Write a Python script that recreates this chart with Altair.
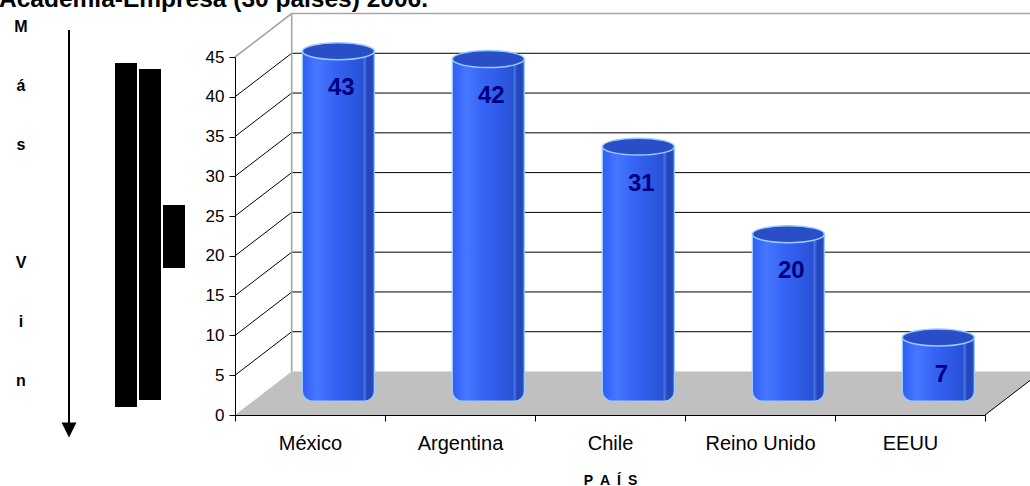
import altair as alt
import pandas as pd

# ---------------- data ----------------
countries = ["México", "Argentina", "Chile", "Reino Unido", "EEUU"]
values = [43, 42, 31, 20, 7]
y_ticks = [0, 5, 10, 15, 20, 25, 30, 35, 40, 45]
wall_lines = [5, 10, 15, 20, 25, 30, 35, 40, 45]
title_text = "Academia-Empresa (30 países) 2006."
side_letters = ["M", "á", "s", " ", "V", "i", "n"]
x_title = "P\u2002A\u2002Í\u2002S"

# ---------------- layout / style ----------------
W, H = 750, 358
PAD_L, PAD_T = 235, 57
PAD_R = 1030 - PAD_L - W
PAD_B = 486 - PAD_T - H
Y_MAX = 45
N = len(countries)
DX, DY = 56.7, -43.5            # oblique depth projection (px)
PX_PER_UNIT = H / Y_MAX
PX_PER_CAT = W / N
DX_U = DX / PX_PER_CAT
DY_U = -DY / PX_PER_UNIT
CYL_W = 0.48
CYL_PX = CYL_W * PX_PER_CAT
FONT = "Liberation Sans"
GRAY_EDGE = "#A6A6A6"
FLOOR = "#C0C0C0"
OUTLINE = "#99CCFF"
LABEL_DY = 37

# decorative elements on the left (absolute px)
BARS = [(115, 63, 137, 407), (139, 69, 161, 400), (163, 205, 185, 268)]
ARROW_X, ARROW_TOP, ARROW_BOT, ARROW_HEAD = 69, 30, 424, 430
LETTER_X, LETTER_Y0, LETTER_STEP = 21, 27, 59
TITLE_RIGHT, TITLE_BASE = 428, 7

yscale = alt.Scale(domain=[0, Y_MAX], nice=False, zero=True)
xq = alt.Scale(domain=[0, N], nice=False, zero=False)
xband = alt.Scale(type="band", domain=countries, paddingInner=0, paddingOuter=0)

df = pd.DataFrame({"country": countries, "value": values})
wall_df = pd.DataFrame({"v": wall_lines})
one = pd.DataFrame({"k": [0]})

line_color = alt.condition(alt.datum.v == Y_MAX, alt.value(GRAY_EDGE), alt.value("black"))
line_width = alt.condition(alt.datum.v == Y_MAX, alt.value(1.6), alt.value(1))

# floor parallelogram
floor = alt.Chart(pd.DataFrame({"depth": [0.0, 1.0]})).transform_calculate(
    fy=f"datum.depth * {DY_U}",
    xl=f"datum.depth * {DX_U}",
    xr=f"{N} + datum.depth * {DX_U}",
).mark_area(orient="horizontal", color=FLOOR).encode(
    y=alt.Y("fy:Q", scale=yscale, axis=None),
    x=alt.X("xl:Q", scale=xq, axis=None, stack=None),
    x2="xr:Q",
)

# side wall diagonals
side_grid = alt.Chart(wall_df).mark_rule(x2Offset=DX, y2Offset=DY).encode(
    x=alt.X(datum=0, scale=xq, axis=None),
    x2=alt.X2(datum=0),
    y=alt.Y("v:Q", scale=yscale, axis=None),
    y2="v:Q",
    color=line_color,
    strokeWidth=line_width,
)

# back wall gridlines
back_grid = alt.Chart(wall_df).mark_rule(
    xOffset=DX, x2Offset=DX, yOffset=DY, y2Offset=DY
).encode(
    x=alt.X(datum=0, scale=xq, axis=None),
    x2=alt.X2(datum=N),
    y=alt.Y("v:Q", scale=yscale, axis=None),
    y2="v:Q",
    color=line_color,
    strokeWidth=line_width,
)

# back wall left edge
back_edge = alt.Chart(one).mark_rule(
    color=GRAY_EDGE, strokeWidth=1.6, xOffset=DX, x2Offset=DX, yOffset=DY, y2Offset=DY
).encode(
    x=alt.X(datum=0, scale=xq, axis=None),
    x2=alt.X2(datum=0),
    y=alt.Y(datum=0, scale=yscale, axis=None),
    y2=alt.Y2(datum=Y_MAX),
)

# floor right edge
floor_edge = alt.Chart(one).mark_rule(color="black", strokeWidth=1, x2Offset=DX, y2Offset=DY).encode(
    x=alt.X(datum=N, scale=xq, axis=None),
    x2=alt.X2(datum=N),
    y=alt.Y(datum=0, scale=yscale, axis=None),
    y2=alt.Y2(datum=0),
)

body_grad = alt.LinearGradient(
    gradient="linear",
    x1=0, x2=1, y1=0, y2=0,
    stops=[
        alt.GradientStop(color="#2F5EF0", offset=0),
        alt.GradientStop(color="#3D6DFF", offset=0.12),
        alt.GradientStop(color="#4677FF", offset=0.2),
        alt.GradientStop(color="#3563F5", offset=0.45),
        alt.GradientStop(color="#2B56DD", offset=0.75),
        alt.GradientStop(color="#2A50D2", offset=0.84),
        alt.GradientStop(color="#4A74E6", offset=0.86),
        alt.GradientStop(color="#2547BE", offset=0.9),
        alt.GradientStop(color="#2446BC", offset=0.95),
        alt.GradientStop(color="#2D52CC", offset=1),
    ],
)

body = alt.Chart(df).mark_bar(
    color=body_grad,
    stroke=OUTLINE,
    strokeWidth=1.3,
    width=alt.RelativeBandSize(CYL_W),
    xOffset=DX / 2,
    yOffset=DY / 2,
    y2Offset=DY / 2 + 8,
    cornerRadiusBottomLeft=10,
    cornerRadiusBottomRight=10,
).encode(
    x=alt.X(
        "country:N",
        scale=xband,
        sort=countries,
        axis=alt.Axis(
            title=x_title,
            titleFont=FONT,
            titleFontSize=14,
            titleFontWeight="bold",
            titleColor="black",
            titleBaseline="alphabetic",
            titleY=69,
            labelFont=FONT,
            labelFontSize=20,
            labelColor="black",
            labelPadding=12,
            labelAngle=0,
            tickBand="extent",
            tickSize=6,
            tickColor="black",
            domainColor="black",
            domainWidth=1,
            zindex=1,
        ),
    ),
    y=alt.Y(
        "value:Q",
        scale=yscale,
        axis=alt.Axis(
            title=None,
            values=y_ticks,
            format="d",
            grid=False,
            labelFont=FONT,
            labelFontSize=17,
            labelColor="black",
            labelPadding=5,
            tickSize=6,
            tickColor="black",
            domainColor="black",
            domainWidth=1,
            zindex=1,
        ),
    ),
    y2=alt.Y2(datum=0),
)

ELLIPSE = "M -1 0 A 1 0.236 0 1 1 1 0 A 1 0.236 0 1 1 -1 0 Z"
tops = alt.Chart(df).mark_point(
    shape=ELLIPSE,
    size=CYL_PX ** 2,
    filled=True,
    fill="#2A4EC8",
    stroke=OUTLINE,
    strokeWidth=1.5,
    opacity=1,
    xOffset=DX / 2,
    yOffset=DY / 2,
).encode(
    x=alt.X("country:N", scale=xband, sort=countries, axis=None),
    y=alt.Y("value:Q", scale=yscale, axis=None),
)

labels = alt.Chart(df).mark_text(
    font=FONT,
    fontSize=24,
    fontWeight="bold",
    color="#000080",
    baseline="middle",
    xOffset=DX / 2 + 3,
    yOffset=DY / 2 + LABEL_DY,
).encode(
    x=alt.X("country:N", scale=xband, sort=countries, axis=None),
    y=alt.Y("value:Q", scale=yscale, axis=None),
    text="value:Q",
)

# ---- decorations (left side and cropped title) ----
title = alt.Chart(pd.DataFrame({"t": [title_text]})).mark_text(
    font=FONT, fontSize=24.5, fontWeight="bold", color="black", align="right", baseline="alphabetic"
).encode(text="t:N", x=alt.value(TITLE_RIGHT - PAD_L), y=alt.value(TITLE_BASE - PAD_T))

letters_df = pd.DataFrame({"ch": side_letters, "row": list(range(len(side_letters)))})
letters_df["px"] = LETTER_X - PAD_L
letters_df["py"] = LETTER_Y0 + letters_df["row"] * LETTER_STEP - PAD_T
letters = alt.Chart(letters_df).mark_text(
    font=FONT, fontSize=16, fontWeight="bold", color="black", align="center", baseline="middle"
).encode(
    text="ch:N",
    x=alt.X("px:Q", scale=None, axis=None),
    y=alt.Y("py:Q", scale=None, axis=None),
)

arrow_line = alt.Chart(one).mark_rule(color="black", strokeWidth=2).encode(
    x=alt.value(ARROW_X - PAD_L), y=alt.value(ARROW_TOP - PAD_T), y2=alt.value(ARROW_BOT - PAD_T)
)
arrow_head = alt.Chart(one).mark_point(
    shape="M -1 -1 L 1 -1 L 0 1 Z", size=225, filled=True, color="black", opacity=1
).encode(x=alt.value(ARROW_X - PAD_L), y=alt.value(ARROW_HEAD - PAD_T))

bars_df = pd.DataFrame(BARS, columns=["x1", "y1", "x2", "y2"])
bars_df[["x1", "x2"]] -= PAD_L
bars_df[["y1", "y2"]] -= PAD_T
black_bars = alt.Chart(bars_df).mark_rect(color="black").encode(
    x=alt.X("x1:Q", scale=None, axis=None),
    x2="x2:Q",
    y=alt.Y("y1:Q", scale=None, axis=None),
    y2="y2:Q",
)

chart = alt.layer(
    floor, side_grid, back_grid, back_edge, floor_edge, body, tops, labels,
    title, letters, arrow_line, arrow_head, black_bars,
).resolve_scale(x="independent", y="independent").properties(
    width=W,
    height=H,
    padding={"left": PAD_L, "top": PAD_T, "right": PAD_R, "bottom": PAD_B},
    autosize=alt.AutoSizeParams(type="none"),
    background="white",
).configure_view(stroke=None)

chart.save("out.html", embed_options={"renderer": "svg", "actions": False})
